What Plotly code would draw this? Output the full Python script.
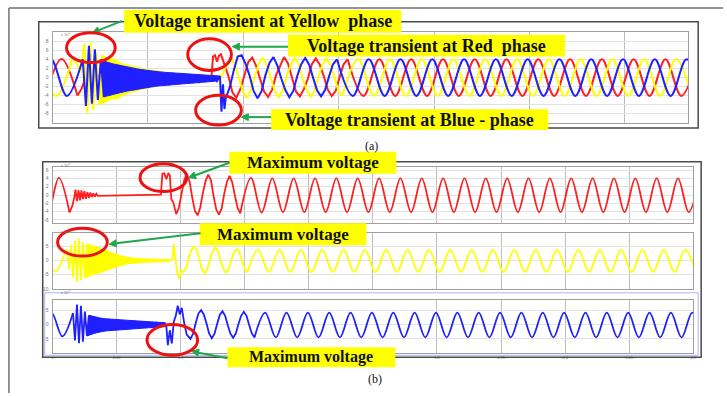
import math
import plotly.graph_objects as go

# ================= DATA (time in ms, voltage in x10^5) =================
# ---- Panel (a): three phases on one axis ----
A_HALF = 8.3333      # half period, 60 Hz
A_T8 = 2.0833        # eighth period
A_DENSE = 1.5625     # transient sample step

A_RED_PRE_T0 = -3.65
A_RED_PRE = [-4.0, 4.1, -4.0]
A_RED_TR_T = [13.02, 15.10, 17.19, 25.00, 40.63, 56.25, 71.88, 83.33, 84.11, 85.16, 86.20, 87.24, 88.28, 89.32]
A_RED_TR_V = [-4.0, -2.6, -0.2, 0.3, -0.1, 0.2, 0.0, 0.2, 4.6, 4.9, 3.5, 4.8, 5.1, 3.8]
A_RED_NOISE_T0 = 90.10
A_RED_NOISE = [2.8, 0.3, -3.3, -4.5, -2.6, 0.6, 3.4, 4.4, 2.5, -0.4, -3.2, -4.3, -2.7, 0.5, 2.6, 4.5,
               3.1, 0.2, -3.1, -4.2, -2.6, -0.3, 2.9, 4.2, 2.8, 0.3, -2.7, -4.1, -3.0, 0.1, 2.9, 4.0]
A_RED_SS_T0 = 154.69
A_RED_SS = [4.0, -4.1, 4.0, -4.1, 4.0, -4.1, 4.0, -4.1, 4.0, -4.1, 4.0, -4.1,
            4.0, -4.1, 4.0, -4.1, 4.0, -4.1, 4.0, -4.1, 4.0, -4.1, 4.0]

A_YEL_PRE_T0 = -6.41
A_YEL_PRE = [4.0, -4.1, 4.1]
A_YEL_TR_T = [10.26, 12.50, 14.58]
A_YEL_TR_V = [4.1, 3.2, 1.2]
A_YEL_DENSE_T0 = 16.67
A_YEL_DENSE = [7.5, -8.0, 7.7, -7.2, 5.5, -6.0, 4.9, -5.4, 4.2, -4.8, 4.0, -4.7, 3.2, -3.9, 2.8, -3.4,
               2.5, -3.0, 2.1, -2.7, 1.8, -2.4, 1.6, -2.1, 1.6, -1.9, 1.2, -1.7, 1.1, -1.6, 0.9, -1.4,
               0.9, -1.3, 0.7, -1.2, 0.7, -1.1, 0.6, -1.0, 0.5, -0.9, 0.5, -0.8, 0.4, -0.7, 0.3]
A_YEL_NOISE_T0 = 91.51
A_YEL_NOISE = [2.8, 4.4, 2.6, -0.4, -3.2, -4.6, -2.7, 0.3, 3.2, 4.3, 2.6, -0.2, -3.1, -4.4, -2.8, 0.4,
               2.7, 4.3, 3.0, -0.3, -2.7, -4.3, -2.9, 0.2, 2.9, 4.2, 2.8, 0.0, -2.9, -4.1]
A_YEL_SS_T0 = 151.93
A_YEL_SS = [-4.1, 4.0, -4.1, 4.0, -4.1, 4.0, -4.1, 4.0, -4.1, 4.0, -4.1, 4.0,
            -4.1, 4.0, -4.1, 4.0, -4.1, 4.0, -4.1, 4.0, -4.1, 4.0, -4.1]

A_BLU_PRE_T0 = -9.22
A_BLU_PRE = [-4.0, 4.0, -4.1, 4.0]
A_BLU_TR1_T = [15.78]
A_BLU_TR1_V = [4.0]
A_BLU_DENSE_T0 = 17.45
A_BLU_DENSE = [-6.3, 7.0, -5.8, 6.2, -5.0, 4.0, -4.3, 3.4, -4.0, 3.0, -3.6, 2.7, -3.3, 2.4, -3.0, 2.1,
               -2.8, 1.9, -2.5, 1.7, -2.3, 1.5, -2.1, 1.4, -1.9, 1.2, -1.8, 1.1, -1.7, 1.0, -1.5, 0.9,
               -1.4, 0.8, -1.3, 0.7, -1.2, 0.6, -1.2, 0.5, -1.0, 0.4, -0.9, 0.3, -0.8, 0.3]
A_BLU_TR2_T = [88.54, 89.32, 90.10]
A_BLU_TR2_V = [-7.6, -1.5, -7.0]
A_BLU_NOISE_T0 = 90.78
A_BLU_NOISE = [-4.6, -2.2, 1.5, 4.6, 4.9, 3.0, 0.4, -3.0, -4.6, -3.1, 0.5, 3.2, 4.5, 2.6, -0.3,
               -2.8, -4.4, -3.0, 0.3, 2.9, 4.3, 2.8, -0.1, -2.9, -4.2, -2.8, 0.2, 2.9, 4.0]
A_BLU_SS_T0 = 149.11
A_BLU_SS = [4.0, -4.1, 4.0, -4.1, 4.0, -4.1, 4.0, -4.1, 4.0, -4.1, 4.0, -4.1,
            4.0, -4.1, 4.0, -4.1, 4.0, -4.1, 4.0, -4.1, 4.0, -4.1, 4.0, -4.1]

# ---- Panel (b): one phase per axis ----
B_HALF = 8.3333
B_T8 = 2.0833
B_DENSE = 1.5504
B_RED_DENSE_STEP = 1.163

B_RED_PRE_T0 = -11.86
B_RED_PRE = [4.0, -4.0, 4.1, -4.2]
B_RED_TR1_T = [13.14, 15.50, 17.05]
B_RED_TR1_V = [-4.2, -2.5, -0.3]
B_RED_DENSE_T0 = 17.83
B_RED_DENSE = [1.3, -1.5, 1.2, -1.3, 1.1, -1.0, 0.9, -0.9, 0.7, -0.7, 0.6, -0.5, 0.4, -0.4, 0.3, -0.2]
B_RED_TR2_T = [60.47, 84.50, 85.66, 87.21, 88.76, 90.31, 91.47, 92.64, 94.19]
B_RED_TR2_V = [0.0, 0.1, 5.1, 5.2, 3.8, 5.2, 4.8, -1.0, -1.8]
B_RED_NOISE_T0 = 96.47
B_RED_NOISE = [-4.6, -3.0, 0.8, 3.6, 5.1, 3.2, -0.6, -3.8, -4.9, -3.0, 0.5, 3.4, 4.9, 3.6, -0.3,
               -3.5, -4.7, -3.3, 0.4, 3.2, 4.6, 3.0, -0.2, -3.1, -4.4]
B_RED_SS_T0 = 146.47
B_RED_SS = [-4.4, 4.1, -4.2, 4.0, -4.1, 4.0, -4.1, 4.0, -4.1, 4.0, -4.1, 4.0, -4.1, 4.0, -4.1,
            4.0, -4.1, 4.0, -4.1, 4.0, -4.1, 4.0, -4.1, 4.0, -4.1, 4.0, -4.1, 4.0, -4.1, 4.0,
            -4.1, 4.0, -4.1, 4.0, -4.1, 4.0, -4.1, 4.0, -4.1, 4.0, -4.1, 4.0, -4.1, 4.0]

B_YEL_PRE_T0 = -6.28
B_YEL_PRE = [4.0, -4.0, 4.0]
B_YEL_TR1_T = [10.39, 11.63]
B_YEL_TR1_V = [4.0, 2.0]
B_YEL_DENSE_T0 = 12.79
B_YEL_DENSE = [-3.0, 5.5, -6.0, 7.0, -7.6, 7.9, -7.0, 6.5, -6.2, 5.8, -5.5, 5.5, -5.0, 5.0, -4.5, 4.6,
               -4.2, 3.8, -3.6, 3.4, -3.2, 3.0, -2.7, 2.4, -2.2, 1.9, -1.8, 1.5, -1.4, 1.2, -1.1, 1.0,
               -0.9, 0.8, -0.8, 0.7, -0.7, 0.6, -0.6, 0.5, -0.5, 0.5, -0.4, 0.4, -0.4, 0.4, -0.3, 0.3,
               -0.3, 0.3, -0.3, 0.3]
B_YEL_TR2_T = [93.41, 94.57, 95.74, 97.29, 98.84, 100.39]
B_YEL_TR2_V = [0.5, 5.9, 1.0, -4.5, -6.5, -3.5]
B_YEL_NOISE_T0 = 102.05
B_YEL_NOISE = [-4.2, -2.6, 0.9, 3.8, 5.0, 3.9, 0.3, -3.2, -4.5, -3.0, 0.4, 3.4, 4.7, 3.1, -0.2,
               -3.0, -4.3, -2.9, 0.3, 3.0, 4.3, 2.9, -0.2, -2.9, -4.1]
B_YEL_SS_T0 = 152.05
B_YEL_SS = [-4.1, 3.9, -4.1, 3.9, -4.1, 3.9, -4.1, 3.9, -4.1, 3.9, -4.1, 3.9, -4.1, 3.9, -4.1,
            3.9, -4.1, 3.9, -4.1, 3.9, -4.1, 3.9, -4.1, 3.9, -4.1, 3.9, -4.1, 3.9, -4.1, 3.9,
            -4.1, 3.9, -4.1, 3.9, -4.1, 3.9, -4.1, 3.9, -4.1, 3.9, -4.1, 3.9, -4.1]

B_BLU_PRE_T0 = -9.11
B_BLU_PRE = [-4.0, 4.0, -4.1, 4.0]
B_BLU_TR1_T = [15.89]
B_BLU_TR1_V = [4.0]
B_BLU_DENSE_T0 = 17.44
B_BLU_DENSE = [-5.5, 6.9, -6.5, 6.5, -6.0, 4.5, -4.0, 3.2, -3.5, 2.8, -3.0, 2.5, -2.6, 2.2, -2.4, 2.0,
               -2.2, 1.9, -2.0, 1.8, -1.9, 1.7, -1.8, 1.5, -1.6, 1.4, -1.5, 1.3, -1.4, 1.2, -1.3, 1.1,
               -1.2, 1.0, -1.1, 1.0, -1.0, 0.9, -1.0, 0.8, -0.9, 0.8, -0.9, 0.7, -0.8, 0.7, -0.7]
B_BLU_TR2_T = [89.92, 91.47, 93.02, 94.57, 96.12, 97.67, 99.22, 100.78, 102.71, 104.65]
B_BLU_TR2_V = [-7.2, -2.0, -6.6, 1.0, 3.0, 6.5, 3.5, 5.8, 0.5, -3.5]
B_BLU_NOISE_T0 = 107.56
B_BLU_NOISE = [-5.0, -3.2, 0.6, 3.8, 5.0, 3.5, 0.4, -3.1, -4.8, -3.3, 0.2, 3.3, 4.6, 3.0, -0.3,
               -3.2, -4.6, -3.1, 0.2, 3.0, 4.4, 3.0, -0.2, -3.1, -4.5]
B_BLU_SS_T0 = 157.56
B_BLU_SS = [-4.5, 4.1, -4.5, 4.1, -4.5, 4.1, -4.5, 4.1, -4.5, 4.1, -4.5, 4.1, -4.5, 4.1, -4.5,
            4.1, -4.5, 4.1, -4.5, 4.1, -4.5, 4.1, -4.5, 4.1, -4.5, 4.1, -4.5, 4.1, -4.5, 4.1,
            -4.5, 4.1, -4.5, 4.1, -4.5, 4.1, -4.5, 4.1, -4.5, 4.1, -4.5, 4.1, -4.5]

A_YTICKS = [-8, -6, -4, -2, 0, 2, 4, 6, 8]
B_RED_YTICKS = [-6, -4, -2, 0, 2, 4, 6]
B_YEL_YTICKS = [-10, -5, 0, 5]
B_BLU_YTICKS = [-5, 0, 5]
B_XTICKS = [0, 0.05, 0.1, 0.3, 0.35, 0.4, 0.45, 0.5]          # others hidden under the label box
B_XTICK_TEXT = ["0", "0.05", "0.1", "0.3", "0.35", "0.4", "0.45", "0.5"]

LABEL_YELLOW = "Voltage transient at Yellow &nbsp;phase"
LABEL_RED = "Voltage transient at Red &nbsp;phase"
LABEL_BLUE = "Voltage transient at Blue - phase"
LABEL_MAX = "Maximum voltage"

# ================= HELPERS =================
W, H = 727, 396
RED, YEL, BLU = "#ff1f1f", "#ffff00", "#1f1fff"


def grid(t0, dt, vals):
    return [t0 + i * dt for i in range(len(vals))]


def sec(ts):
    return [None if t is None else t / 1000.0 for t in ts]


def px(x, y):
    return x / W, 1 - y / H


fig = go.Figure()


def add_band(xa, ya, color, t, v, start):
    t, v = t[start:], v[start:]
    up = [(a, b) for a, b in zip(t, v) if b > 0]
    lo = [(a, b) for a, b in zip(t, v) if b < 0]
    pts = up + lo[::-1]
    if not pts:
        return
    fig.add_trace(go.Scatter(x=sec([p[0] for p in pts]), y=[p[1] for p in pts], mode="lines",
                             xaxis=xa, yaxis=ya, fill="toself", fillcolor=color,
                             line=dict(color=color, width=1), hoverinfo="skip", showlegend=False))


def add_phase(xa, ya, color, spline_parts, linear_parts, dense, band_start=0, width=2):
    t_d, v_d = dense
    add_band(xa, ya, color, t_d, v_d, band_start)
    sx, sy = [], []
    for t, v in spline_parts:
        if sx:
            sx.append(None); sy.append(None)
        sx += t; sy += v
    lx, ly = [], []
    for t, v in linear_parts:
        lx += t; ly += v
    fig.add_trace(go.Scatter(x=sec(sx), y=sy, mode="lines", xaxis=xa, yaxis=ya,
                             line=dict(color=color, width=width, shape="spline", smoothing=1),
                             hoverinfo="skip", showlegend=False, connectgaps=False))
    fig.add_trace(go.Scatter(x=sec(lx), y=ly, mode="lines", xaxis=xa, yaxis=ya,
                             line=dict(color=color, width=width), hoverinfo="skip", showlegend=False))


# ---- panel (a) ----
add_phase("x", "y", RED,
          [(grid(A_RED_PRE_T0, A_HALF, A_RED_PRE), A_RED_PRE), (grid(A_RED_SS_T0, A_HALF, A_RED_SS), A_RED_SS)],
          [(A_RED_TR_T, A_RED_TR_V), (grid(A_RED_NOISE_T0, A_T8, A_RED_NOISE), A_RED_NOISE)],
          ([], []))
t_ay = grid(A_YEL_DENSE_T0, A_DENSE, A_YEL_DENSE)
add_phase("x", "y", YEL,
          [(grid(A_YEL_PRE_T0, A_HALF, A_YEL_PRE), A_YEL_PRE), (grid(A_YEL_SS_T0, A_HALF, A_YEL_SS), A_YEL_SS)],
          [(A_YEL_TR_T, A_YEL_TR_V), (t_ay, A_YEL_DENSE),
           (grid(A_YEL_NOISE_T0, A_T8, A_YEL_NOISE), A_YEL_NOISE)],
          (t_ay, A_YEL_DENSE), band_start=5)
t_ab = grid(A_BLU_DENSE_T0, A_DENSE, A_BLU_DENSE)
add_phase("x", "y", BLU,
          [(grid(A_BLU_PRE_T0, A_HALF, A_BLU_PRE), A_BLU_PRE), (grid(A_BLU_SS_T0, A_HALF, A_BLU_SS), A_BLU_SS)],
          [(A_BLU_TR1_T, A_BLU_TR1_V), (t_ab, A_BLU_DENSE),
           (A_BLU_TR2_T, A_BLU_TR2_V), (grid(A_BLU_NOISE_T0, A_T8, A_BLU_NOISE), A_BLU_NOISE)],
          (t_ab, A_BLU_DENSE), band_start=5)

# ---- panel (b) ----
t_br = grid(B_RED_DENSE_T0, B_RED_DENSE_STEP, B_RED_DENSE)
add_phase("x2", "y2", RED,
          [(grid(B_RED_PRE_T0, B_HALF, B_RED_PRE), B_RED_PRE), (grid(B_RED_SS_T0, B_HALF, B_RED_SS), B_RED_SS)],
          [(B_RED_TR1_T, B_RED_TR1_V), (t_br, B_RED_DENSE),
           (B_RED_TR2_T, B_RED_TR2_V), (grid(B_RED_NOISE_T0, B_T8, B_RED_NOISE), B_RED_NOISE)],
          ([], []), width=1.8)
t_by = grid(B_YEL_DENSE_T0, B_DENSE, B_YEL_DENSE)
add_phase("x3", "y3", YEL,
          [(grid(B_YEL_PRE_T0, B_HALF, B_YEL_PRE), B_YEL_PRE), (grid(B_YEL_SS_T0, B_HALF, B_YEL_SS), B_YEL_SS)],
          [(B_YEL_TR1_T, B_YEL_TR1_V), (t_by, B_YEL_DENSE),
           (B_YEL_TR2_T, B_YEL_TR2_V), (grid(B_YEL_NOISE_T0, B_T8, B_YEL_NOISE), B_YEL_NOISE)],
          (t_by, B_YEL_DENSE), band_start=8, width=1.8)
t_bb = grid(B_BLU_DENSE_T0, B_DENSE, B_BLU_DENSE)
add_phase("x4", "y4", BLU,
          [(grid(B_BLU_PRE_T0, B_HALF, B_BLU_PRE), B_BLU_PRE), (grid(B_BLU_SS_T0, B_HALF, B_BLU_SS), B_BLU_SS)],
          [(B_BLU_TR1_T, B_BLU_TR1_V), (t_bb, B_BLU_DENSE),
           (B_BLU_TR2_T, B_BLU_TR2_V), (grid(B_BLU_NOISE_T0, B_T8, B_BLU_NOISE), B_BLU_NOISE)],
          (t_bb, B_BLU_DENSE), band_start=6, width=1.8)

# ================= AXES =================
tick_font = dict(family="Liberation Sans", size=5, color="#777")


def xaxis(dom, rng, anchor, labels=False):
    d = dict(domain=dom, range=rng, anchor=anchor, showgrid=True, gridcolor="#bdbdbd", gridwidth=1,
             tick0=0, dtick=0.05, zeroline=False, showline=True, linecolor="#a0a0a0", linewidth=1,
             mirror=True, ticks="", showticklabels=labels,
             tickfont=dict(family="Liberation Sans", size=4, color="#777"))
    if labels:
        d.update(tickmode="array", tickvals=B_XTICKS, ticktext=B_XTICK_TEXT, ticklen=0)
    return d


def yaxis(dom, rng, anchor, vals):
    return dict(domain=dom, range=rng, anchor=anchor, tickmode="array", tickvals=vals,
                ticktext=[str(v) for v in vals], showgrid=True, gridcolor="#e2e2e2", zeroline=False,
                showline=True, linecolor="#a0a0a0", linewidth=1, mirror=True, ticks="",
                tickfont=tick_font, ticklabelstandoff=2)


XA = [52 / W, 692 / W]
XB = [52 / W, 697 / W]

fig.update_layout(
    width=W, height=H, margin=dict(l=0, r=0, t=0, b=0),
    paper_bgcolor="white", plot_bgcolor="white", showlegend=False,
    xaxis=xaxis(XA, [0, 0.33333], "y"),
    yaxis=yaxis([1 - 124 / H, 1 - 32 / H], [-10.1, 10.1], "x", A_YTICKS),
    xaxis2=xaxis(XB, [0, 0.5], "y2"),
    yaxis2=yaxis([1 - 225 / H, 1 - 168 / H], [-6.8, 6.8], "x2", B_RED_YTICKS),
    xaxis3=xaxis(XB, [0, 0.5], "y3"),
    yaxis3=yaxis([1 - 291 / H, 1 - 235 / H], [-10, 9.7], "x3", B_YEL_YTICKS),
    xaxis4=xaxis(XB, [0, 0.5], "y4", labels=True),
    yaxis4=yaxis([1 - 356 / H, 1 - 302 / H], [-10, 8.6], "x4", B_BLU_YTICKS),
)

# ================= DECORATION =================
shapes = []
annots = []
GREEN = "#1fa84a"


def rect(x0, y0, x1, y1, **kw):
    a0, b0 = px(x0, y0)
    a1, b1 = px(x1, y1)
    shapes.append(dict(type="rect", xref="paper", yref="paper", x0=a0, y0=b0, x1=a1, y1=b1, **kw))


def ell(x0, y0, x1, y1):
    a0, b0 = px(x0, y0)
    a1, b1 = px(x1, y1)
    shapes.append(dict(type="circle", xref="paper", yref="paper", x0=a0, y0=b0, x1=a1, y1=b1,
                       line=dict(color="#ee1111", width=3)))


def seg_line(x0, y0, x1, y1, color="#707070", width=1.5):
    a0, b0 = px(x0, y0)
    a1, b1 = px(x1, y1)
    shapes.append(dict(type="line", xref="paper", yref="paper", x0=a0, y0=b0, x1=a1, y1=b1,
                       line=dict(color=color, width=width)))


def arrow(tx, ty, hx, hy, L=7.0, w=3.5):
    dx, dy = hx - tx, hy - ty
    n = math.hypot(dx, dy)
    ux, uy = dx / n, dy / n
    bx, by = hx - ux * L, hy - uy * L
    seg_line(tx, ty, bx, by, color=GREEN, width=2)
    p1 = px(hx, hy)
    p2 = px(bx - uy * w, by + ux * w)
    p3 = px(bx + uy * w, by - ux * w)
    path = "M {} {} L {} {} L {} {} Z".format(p1[0], p1[1], p2[0], p2[1], p3[0], p3[1])
    shapes.append(dict(type="path", xref="paper", yref="paper", path=path,
                       fillcolor=GREEN, line=dict(color=GREEN, width=1)))


def label_box(x0, y0, x1, y1, text, size=17):
    rect(x0, y0, x1, y1, fillcolor="#ffff00", line=dict(width=0), layer="above")
    cx, cy = px((x0 + x1) / 2, (y0 + y1) / 2)
    annots.append(dict(x=cx, y=cy, xref="paper", yref="paper", text="<b>" + text + "</b>",
                       showarrow=False, xanchor="center", yanchor="middle", borderpad=0,
                       font=dict(family="Liberation Serif", size=size, color="#111")))


# page lines
seg_line(8, 8, 727, 8)
seg_line(8, 8, 8, 396)
# frames
rect(38, 22, 702, 129, line=dict(color="#4a4a4a", width=1.5))
rect(42, 163, 705, 360, line=dict(color="#4a4a4a", width=1.5))
rect(44, 295, 702, 358, line=dict(color="#aab2ff", width=1))

label_box(124, 10, 403, 33, LABEL_YELLOW, size=18)
label_box(289, 35, 568, 57, LABEL_RED, size=18)
label_box(272, 110, 551, 131, LABEL_BLUE, size=18)
label_box(230, 153, 398, 175, LABEL_MAX)
label_box(200, 225, 368, 247, LABEL_MAX)
label_box(228, 350, 397, 370, LABEL_MAX, size=16)

arrow(122, 21, 92, 33)
arrow(289, 47, 233, 47)
arrow(272, 118, 242, 118)
arrow(230, 164, 189, 179)
arrow(201, 235, 109, 246)
arrow(228, 361, 192, 354)

ell(66, 33, 115, 63)
ell(188, 39, 232, 71)
ell(196, 96, 242, 126)
ell(140, 165, 187, 193)
ell(57, 230, 107, 258)
ell(147, 327, 198, 358)

for (x, y, t) in [(373, 139, "(a)"), (377, 374, "(b)")]:
    a, b = px(x, y)
    annots.append(dict(x=a, y=b, xref="paper", yref="paper", text=t, showarrow=False,
                       yanchor="top", borderpad=0,
                       font=dict(family="Liberation Serif", size=12, color="#111")))

for (x, y) in [(58, 29), (58, 166), (58, 233), (58, 299)]:
    a, b = px(x, y)
    annots.append(dict(x=a, y=b, xref="paper", yref="paper", text="x 10<sup>5</sup>", showarrow=False,
                       xanchor="left", font=dict(family="Liberation Sans", size=4, color="#777")))

fig.update_layout(shapes=shapes, annotations=annots)
fig.write_html("out.html")
